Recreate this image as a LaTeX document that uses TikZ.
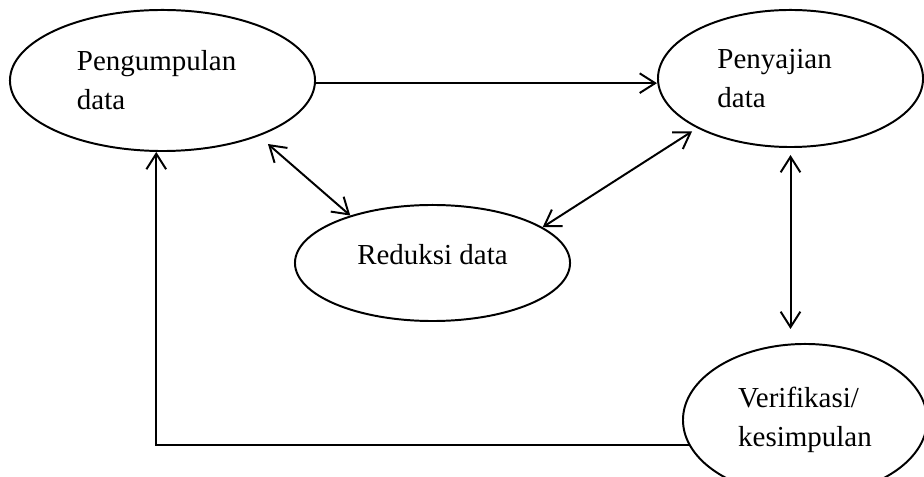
\documentclass[tikz,border=0pt]{standalone}
\usepackage{fontspec}
\setmainfont{Liberation Serif}
\usetikzlibrary{shapes.geometric,arrows.meta}
\tikzset{
    stage/.style={draw,ellipse,line width=1.4pt,inner sep=0pt,align=left,
        font=\fontsize{20.6}{27.7}\selectfont},
    tip/.tip={Straight Barb[length=11pt,width=14pt,line width=1.4pt]},
    flow/.style={line width=1.4pt,-tip},
    both/.style={line width=1.4pt,tip-tip}
}
\begin{document}
\begin{tikzpicture}[x=0.025cm,y=-0.025cm]
                    \useasboundingbox (0,0) rectangle (924,477);
                    \clip (0,0) rectangle (924,477);
                    \node[stage,text width=4.275cm,minimum width=7.625cm,minimum height=3.525cm] (pg) at (162.5,80.5) {Pengumpulan\\data};
                    \node[stage,text width=3.65cm,minimum width=6.625cm,minimum height=3.425cm] (pen) at (790.5,78.5) {Penyajian\\data};
                    \node[stage,text depth=0.45cm,minimum width=6.875cm,minimum height=2.9cm] (red) at (432.5,263) {Reduksi data};
                    \node[stage,minimum width=6.1cm,minimum height=3.8cm] (ver) at (805,420) {Verifikasi/\\kesimpulan};
                    \draw[flow] (pg.-1.3) -- (pg.-1.3 -| pen.west);
                    \draw[both,shorten <=0.3cm] (pg.-30) -- (red.150);
                    \draw[both,shorten >=0.15cm] (red.18) -- (pen.-152);
                    \draw[both,shorten <=0.175cm,shorten >=0.35cm] (pen.south) -- (pen.south |- ver.north);
                    \draw[flow] (ver.192) -| (pg.265);
                \end{tikzpicture}
\end{document}
